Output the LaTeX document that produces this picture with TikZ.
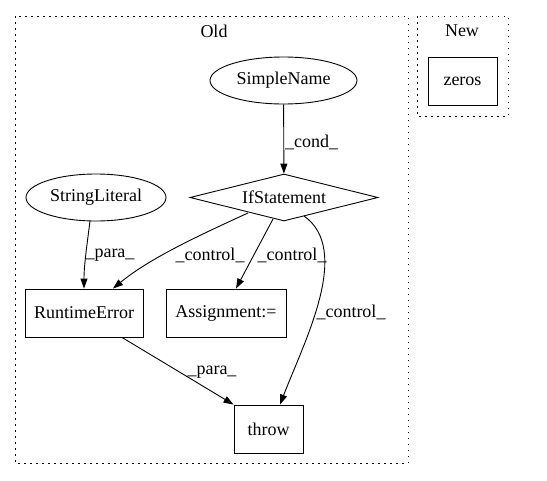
\documentclass[tikz,border=0pt]{standalone}
\usepackage{fontspec}
\setmainfont{Liberation Serif}
\usetikzlibrary{shapes.geometric,arrows.meta}
\begin{document}
\begin{tikzpicture}[x=1pt,y=-1pt,
  every node/.style={font=\fontsize{18pt}{20pt}\selectfont},
  cluster/.style={draw,line width=1pt,dash pattern=on 1.5pt off 4.5pt},
  ell/.style={draw,line width=0.9pt,ellipse,inner sep=0pt},
  boxnode/.style={draw,line width=0.9pt,rectangle,inner sep=0pt},
  edge/.style={line width=0.9pt,-{Triangle[length=10pt,width=7pt]}},
  lbl/.style={inner sep=1pt}]
\useasboundingbox (0,0) rectangle (547,480);
% clusters
\draw[cluster] (15,16) rectangle (408,463);
\draw[cluster] (417,16) rectangle (508,116);
\node (oldlbl) at (214,31) {Old};
\node (newlbl) at (462,31) {New};
% nodes
\node[boxnode,minimum width=69pt,minimum height=48pt] (zeros) at (462.5,81) {zeros};
\node[ell,minimum width=147pt,minimum height=47pt] (simple) at (283.5,80.5) {SimpleName};
\node[draw,line width=0.9pt,diamond,shape aspect=4,inner sep=0pt,minimum width=188pt,minimum height=47pt] (ifs) at (284,197.5) {IfStatement};
\node[ell,minimum width=140pt,minimum height=47pt] (str) at (96,197.5) {StringLiteral};
\node[boxnode,minimum width=118pt,minimum height=48pt] (rte) at (84,313) {RuntimeError};
\node[boxnode,minimum width=120pt,minimum height=48pt] (asg) at (226,313) {Assignment:=};
\node[boxnode,minimum width=69pt,minimum height=48pt] (thr) at (268.5,429) {throw};
% edges
\draw[edge] (simple) -- (ifs) node[pos=0.55,right,lbl] {\_cond\_};
\coordinate (s1) at (90,221);
\draw[edge] (s1) .. controls (87,245) and (84,265) .. (rte.north);
\node[lbl] (p1) at (110,255) {\_para\_};
\coordinate (a1) at (248,213);
\draw[edge] (a1) .. controls (200,235) and (150,258) .. ([xshift=29pt]rte.north);
\node[lbl] (c1) at (210,255) {\_control\_};
\coordinate (a2) at (273,219);
\draw[edge] (a2) -- ([xshift=10pt]asg.north);
\node[lbl] (c2) at (292,255) {\_control\_};
\coordinate (a3) at (304,216);
\draw[edge] (a3) .. controls (352,250) and (305,340) .. ([xshift=11.5pt]thr.north);
\node[lbl] (c3) at (351,312) {\_control\_};
\draw[edge] ([xshift=38pt]rte.south) -- (thr.north west);
\node[lbl] (p2) at (212,372) {\_para\_};
\end{tikzpicture}
\end{document}
